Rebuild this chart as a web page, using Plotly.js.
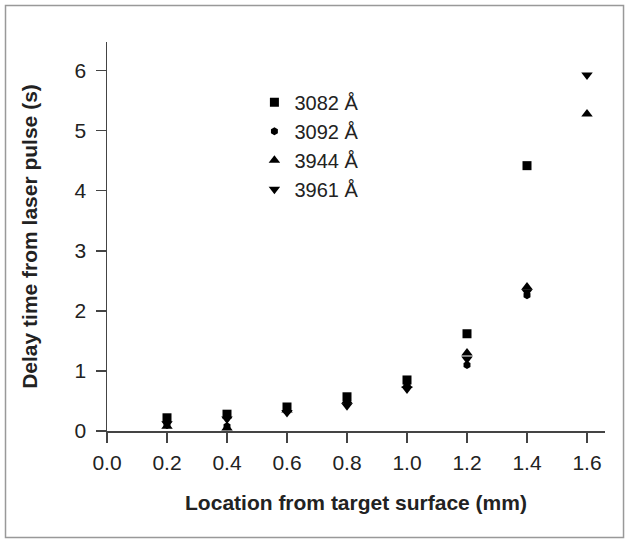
<!DOCTYPE html>
<html>
<head>
<meta charset="utf-8">
<script src="https://cdn.plot.ly/plotly-3.0.1.min.js"></script>
<style>html,body{margin:0;padding:0;background:#fff;}#chart{width:629px;height:541px;}</style>
</head>
<body>
<div id="chart"></div>
<script>
// Data
var locations = [0.2, 0.4, 0.6, 0.8, 1.0, 1.2, 1.4, 1.6];
var series_names = ["3082 Å", "3092 Å", "3944 Å", "3961 Å"];
var delay_3082 = [0.22, 0.28, 0.40, 0.57, 0.85, 1.62, 4.42, null];
var delay_3092 = [0.10, 0.08, 0.33, 0.48, 0.80, 1.10, 2.26, null];
var delay_3944 = [0.08, 0.05, 0.35, 0.50, 0.76, 1.30, 2.40, 5.28];
var delay_3961 = [0.12, 0.20, 0.31, 0.42, 0.70, 1.20, 2.32, 5.93];
var x_ticks = [0, 0.2, 0.4, 0.6, 0.8, 1.0, 1.2, 1.4, 1.6];
var y_ticks = [0, 1, 2, 3, 4, 5, 6];

var allSeries = [delay_3082, delay_3092, delay_3944, delay_3961];
var symbols = ["square", "hexagon", "triangle-up", "triangle-down"];
var sizes = [9, 8, 10, 10];

var traces = allSeries.map(function (ys, i) {
  return {
    type: "scatter", mode: "markers",
    x: locations, y: ys, name: series_names[i],
    legendgroup: "g" + i,
    marker: {symbol: symbols[i], size: sizes[i], color: "#000"},
    cliponaxis: false
  };
});

var fontFam = "Liberation Sans, Arial, Helvetica, sans-serif";
var layout = {
  width: 629, height: 541,
  margin: {l: 107, r: 24, t: 42, b: 110},
  paper_bgcolor: "#fff", plot_bgcolor: "#fff",
  font: {family: fontFam, color: "#222", size: 21},
  showlegend: true,
  legend: {x: 0.296, y: 0.895, xanchor: "left", yanchor: "top",
           font: {size: 20, color: "#222", family: fontFam},
           traceorder: "grouped", tracegroupgap: 0,
           bgcolor: "rgba(0,0,0,0)", itemwidth: 30},
  xaxis: {
    range: [0, 1.66], tickvals: x_ticks, tickformat: ".1f",
    showgrid: false, zeroline: false, showline: true,
    linecolor: "#444", linewidth: 1.5,
    ticks: "outside", ticklen: 10, tickwidth: 1.2, tickcolor: "#444",
    tickfont: {size: 21, color: "#222"}, ticklabelstandoff: 2,
    title: {text: "<b>Location from target surface (mm)</b>", font: {size: 21, color: "#222"}, standoff: 22},
    automargin: false
  },
  yaxis: {
    range: [0, 6.48], tickvals: y_ticks,
    showgrid: false, zeroline: false, showline: true,
    linecolor: "#444", linewidth: 1.5,
    ticks: "outside", ticklen: 10, tickwidth: 1.2, tickcolor: "#444",
    tickfont: {size: 21, color: "#222"}, ticklabelstandoff: 5,
    title: {text: "<b>Delay time from laser pulse (s)</b>", font: {size: 21, color: "#222"}, standoff: 31},
    automargin: false
  },
  shapes: [{
    type: "rect", xref: "paper", yref: "paper",
    x0: -0.2038, x1: 1.0372, y0: -0.2738, y1: 1.0938,
    line: {color: "#999", width: 1.5}, fillcolor: "rgba(0,0,0,0)"
  }]
};

Plotly.newPlot("chart", traces, layout, {displayModeBar: false, staticPlot: true});
</script>
</body>
</html>
